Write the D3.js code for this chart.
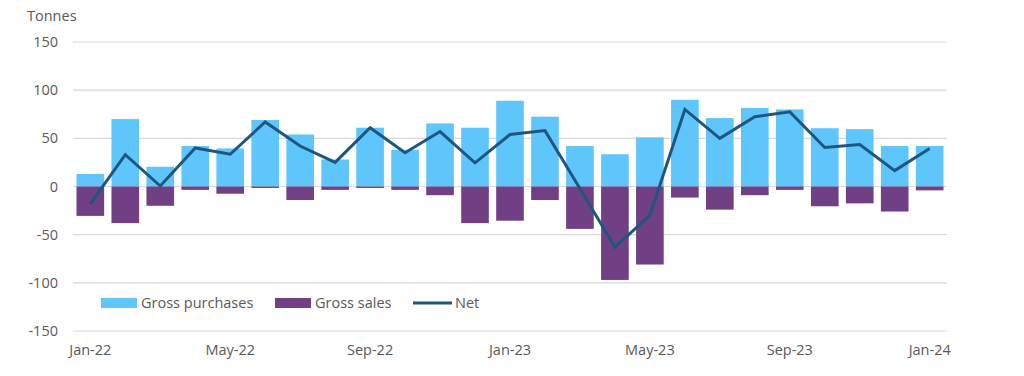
<!DOCTYPE html>
<html>
<head>
<meta charset="utf-8">
<script src="https://cdnjs.cloudflare.com/ajax/libs/d3/7.8.5/d3.min.js"></script>
<style>
  body { margin: 0; background: #fff; }
  svg { display: block; font-family: "Open Sans", sans-serif; }
</style>
</head>
<body>
<svg></svg>
<script>
// months Jan-22 .. Jan-24
const months = ["Jan-22", "Feb-22", "Mar-22", "Apr-22", "May-22", "Jun-22", "Jul-22", "Aug-22",
  "Sep-22", "Oct-22", "Nov-22", "Dec-22", "Jan-23", "Feb-23", "Mar-23", "Apr-23", "May-23",
  "Jun-23", "Jul-23", "Aug-23", "Sep-23", "Oct-23", "Nov-23", "Dec-23", "Jan-24"];

const grossPurchases = [13, 70, 20.5, 42, 39.5, 69, 54, 28, 61, 38, 65.5, 61, 89, 72.5, 42, 33.5,
  51, 90, 71, 81.5, 80, 60.5, 59.5, 42, 42];

const grossSales = [-30.5, -38, -20, -3.5, -7.5, -1.5, -14, -3.5, -1.5, -3.5, -9, -38, -35.5, -14,
  -44, -97, -81, -11.5, -24, -9, -3.5, -20.5, -17.5, -26, -4];

const net = [-18, 33, 0.5, 40, 33.5, 67, 42, 25, 61, 35, 57, 24.5, 54, 58, -2, -63, -30, 80, 50,
  72.5, 77.5, 40.5, 43.5, 16.5, 39.5];

const yTicks = [-150, -100, -50, 0, 50, 100, 150];
const xTickLabels = ["Jan-22", "May-22", "Sep-22", "Jan-23", "May-23", "Sep-23", "Jan-24"];

const width = 1024;
const height = 376;
const margin = { top: 42, right: 77, bottom: 45, left: 73 };
const fontSize = "14.5px";

const svg = d3.select("svg").attr("width", width).attr("height", height);

const x = d3.scaleBand()
  .domain(months)
  .range([margin.left, width - margin.right])
  .paddingInner(0.21)
  .paddingOuter(0.1);

const y = d3.scaleLinear()
  .domain([-150, 150])
  .range([height - margin.bottom, margin.top]);

// gridlines
svg.append("g")
  .selectAll("line")
  .data(yTicks)
  .join("line")
  .attr("x1", margin.left)
  .attr("x2", width - margin.right)
  .attr("y1", (d) => y(d))
  .attr("y2", (d) => y(d))
  .attr("stroke", "#d9d9d9")
  .attr("stroke-width", 1.2);

// y axis labels (plain hyphen as minus, like the original)
const yAxis = svg.append("g")
  .attr("transform", "translate(" + (margin.left - 15) + ",0)")
  .call(d3.axisLeft(y).tickValues(yTicks).tickSize(0).tickPadding(0).tickFormat((d) => String(d)));
yAxis.select(".domain").remove();
yAxis.selectAll("text")
  .attr("fill", "#595959")
  .style("font-size", fontSize)
  .style("font-family", "'Open Sans', sans-serif");

svg.append("text")
  .attr("x", 27)
  .attr("y", 21)
  .attr("fill", "#595959")
  .style("font-size", fontSize)
  .text("Tonnes");

// bars
svg.append("g")
  .selectAll("rect")
  .data(months)
  .join("rect")
  .attr("x", (d) => x(d))
  .attr("width", x.bandwidth())
  .attr("y", (d, i) => y(grossPurchases[i]))
  .attr("height", (d, i) => y(0) - y(grossPurchases[i]))
  .attr("fill", "#5fc6fb");

svg.append("g")
  .selectAll("rect")
  .data(months)
  .join("rect")
  .attr("x", (d) => x(d))
  .attr("width", x.bandwidth())
  .attr("y", y(0))
  .attr("height", (d, i) => y(grossSales[i]) - y(0))
  .attr("fill", "#713f84");

// net line
const line = d3.line()
  .x((d, i) => x(months[i]) + x.bandwidth() / 2)
  .y((d) => y(d));

svg.append("path")
  .datum(net)
  .attr("d", line)
  .attr("fill", "none")
  .attr("stroke", "#1f5680")
  .attr("stroke-width", 3)
  .attr("stroke-linejoin", "miter");

// x axis labels
const xAxis = svg.append("g")
  .attr("transform", "translate(0," + (height - margin.bottom) + ")")
  .call(d3.axisBottom(x).tickValues(xTickLabels).tickSize(0).tickPadding(14));
xAxis.select(".domain").remove();
xAxis.selectAll("text")
  .attr("fill", "#595959")
  .style("font-size", fontSize)
  .style("font-family", "'Open Sans', sans-serif");

// legend
const legend = svg.append("g").attr("transform", "translate(0,303)");
const legendItems = [
  { label: "Gross purchases", color: "#5fc6fb", type: "rect", x: 101 },
  { label: "Gross sales", color: "#713f84", type: "rect", x: 275 },
  { label: "Net", color: "#1f5680", type: "line", x: 413 },
];
legendItems.forEach((item) => {
  if (item.type == "rect") {
    legend.append("rect")
      .attr("x", item.x)
      .attr("y", -5)
      .attr("width", 36)
      .attr("height", 10)
      .attr("fill", item.color);
  } else {
    legend.append("line")
      .attr("x1", item.x)
      .attr("x2", item.x + 39)
      .attr("y1", 0)
      .attr("y2", 0)
      .attr("stroke", item.color)
      .attr("stroke-width", 3);
  }
  legend.append("text")
    .attr("x", item.x + (item.type == "rect" ? 40 : 42))
    .attr("y", 0)
    .attr("dy", "0.35em")
    .attr("fill", "#595959")
    .style("font-size", fontSize)
    .text(item.label);
});
</script>
</body>
</html>
